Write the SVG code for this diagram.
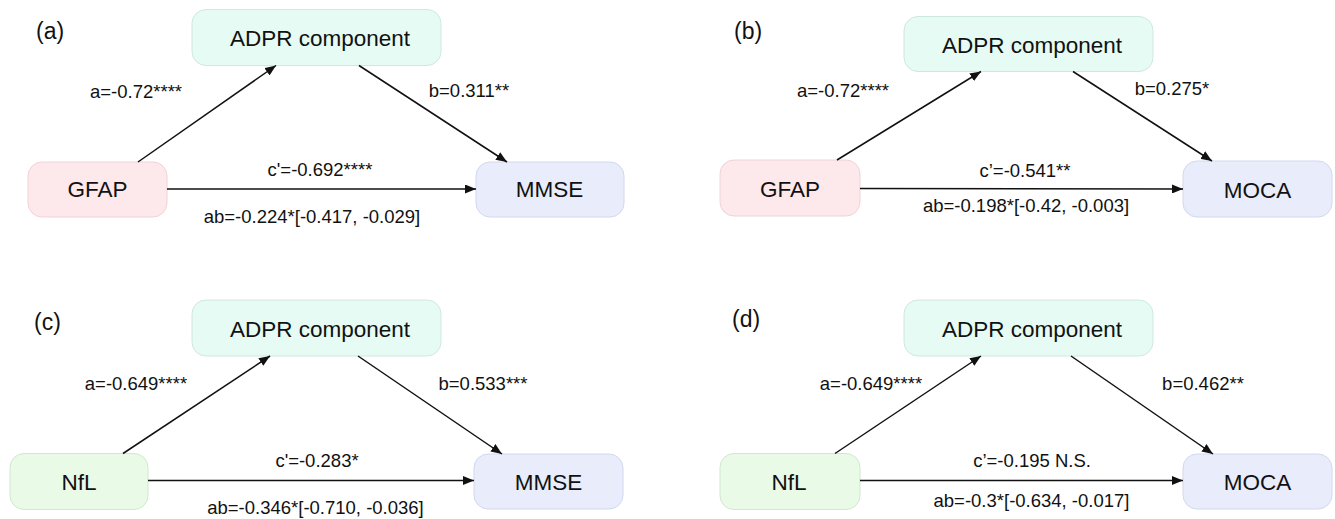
<svg xmlns="http://www.w3.org/2000/svg" width="1335" height="519" viewBox="0 0 1335 519">
<style>
text{font-family:"Liberation Sans",Arial,Helvetica,sans-serif;fill:#111}
.node{font-size:22.5px;text-anchor:middle}
.lbl{font-size:18.5px;text-anchor:middle}
.tag{font-size:23px}
.med{fill:#e6fbf3;stroke:#cfe8de;stroke-width:1}
.gfap{fill:#fde8eb;stroke:#f0d2d7;stroke-width:1}
.out{fill:#e8ecfb;stroke:#d2d8ee;stroke-width:1}
.nfl{fill:#e9fbe6;stroke:#d0e8cc;stroke-width:1}
.edge{stroke:#111;stroke-width:1.5;fill:none;marker-end:url(#ah)}
</style>
<defs>
<marker id="ah" markerUnits="userSpaceOnUse" markerWidth="11" markerHeight="9" refX="11" refY="4.5" orient="auto">
<path d="M0,0 L11,4.5 L0,9 z" fill="#111"/>
</marker>
</defs>
<rect width="1335" height="519" fill="#fff"/>

<!-- Panel (a) -->
<text class="tag" x="36" y="38.5">(a)</text>
<g id="a-adpr"><rect class="med" x="192" y="9.5" width="249" height="56" rx="14"/><text class="node" x="320" y="46">ADPR component</text></g>
<g id="a-gfap"><rect class="gfap" x="28" y="162" width="139" height="55" rx="14"/><text class="node" x="97.5" y="197.3">GFAP</text></g>
<g id="a-mmse"><rect class="out" x="476" y="162" width="148" height="55" rx="14"/><text class="node" x="549.5" y="197.3">MMSE</text></g>

<!-- Panel (b) -->
<text class="tag" x="734" y="38.5">(b)</text>
<g id="b-adpr"><rect class="med" x="904" y="16.5" width="249" height="55" rx="14"/><text class="node" x="1032" y="53">ADPR component</text></g>
<g id="b-gfap"><rect class="gfap" x="720" y="160" width="140" height="56" rx="14"/><text class="node" x="790" y="197">GFAP</text></g>
<g id="b-moca"><rect class="out" x="1183" y="161" width="149" height="56" rx="14"/><text class="node" x="1257.5" y="197.7">MOCA</text></g>

<!-- Panel (c) -->
<text class="tag" x="34" y="330">(c)</text>
<g id="c-adpr"><rect class="med" x="192" y="300" width="249" height="56" rx="14"/><text class="node" x="320" y="337">ADPR component</text></g>
<g id="c-nfl"><rect class="nfl" x="10" y="453.5" width="138" height="56" rx="14"/><text class="node" x="79" y="490">NfL</text></g>
<g id="c-mmse"><rect class="out" x="474" y="454" width="149" height="55" rx="14"/><text class="node" x="548.5" y="490">MMSE</text></g>

<!-- Panel (d) -->
<text class="tag" x="732" y="327">(d)</text>
<g id="d-adpr"><rect class="med" x="904" y="300" width="249" height="56" rx="14"/><text class="node" x="1032" y="336.5">ADPR component</text></g>
<g id="d-nfl"><rect class="nfl" x="720" y="453.5" width="140" height="56" rx="14"/><text class="node" x="789" y="490">NfL</text></g>
<g id="d-moca"><rect class="out" x="1183" y="454" width="149" height="55" rx="14"/><text class="node" x="1257.5" y="490">MOCA</text></g>

<g id="connectors">
<line class="edge" x1="138" y1="162" x2="276" y2="65.5"/>
<line class="edge" x1="359" y1="65.5" x2="507" y2="162"/>
<line class="edge" x1="167" y1="189" x2="476" y2="189"/>

<line class="edge" x1="837" y1="160" x2="981" y2="71.5"/>
<line class="edge" x1="1073" y1="71.5" x2="1212" y2="161"/>
<line class="edge" x1="860" y1="188.5" x2="1183" y2="189"/>

<line class="edge" x1="123" y1="453.5" x2="270" y2="356"/>
<line class="edge" x1="358" y1="356" x2="502" y2="454"/>
<line class="edge" x1="148" y1="480.5" x2="474" y2="480.5"/>

<line class="edge" x1="835" y1="453.5" x2="981" y2="356"/>
<line class="edge" x1="1071" y1="356" x2="1213" y2="454"/>
<line class="edge" x1="860" y1="480.5" x2="1183" y2="480.5"/>
</g>

<g id="labels">
<text class="lbl" x="136" y="98">a=-0.72****</text>
<text class="lbl" x="469" y="97">b=0.311**</text>
<text class="lbl" x="320" y="176">c'=-0.692****</text>
<text class="lbl" x="312" y="222.7">ab=-0.224*[-0.417, -0.029]</text>

<text class="lbl" x="843" y="97">a=-0.72****</text>
<text class="lbl" x="1172" y="94.5">b=0.275*</text>
<text class="lbl" x="1025" y="177">c’=-0.541**</text>
<text class="lbl" x="1026" y="212">ab=-0.198*[-0.42, -0.003]</text>

<text class="lbl" x="136" y="390">a=-0.649****</text>
<text class="lbl" x="483" y="390">b=0.533***</text>
<text class="lbl" x="317" y="466.5">c'=-0.283*</text>
<text class="lbl" x="315.5" y="514">ab=-0.346*[-0.710, -0.036]</text>

<text class="lbl" x="871" y="390">a=-0.649****</text>
<text class="lbl" x="1203" y="390">b=0.462**</text>
<text class="lbl" x="1032" y="466.5">c’=-0.195 N.S.</text>
<text class="lbl" x="1031.5" y="506.5">ab=-0.3*[-0.634, -0.017]</text>
</g>
</svg>
